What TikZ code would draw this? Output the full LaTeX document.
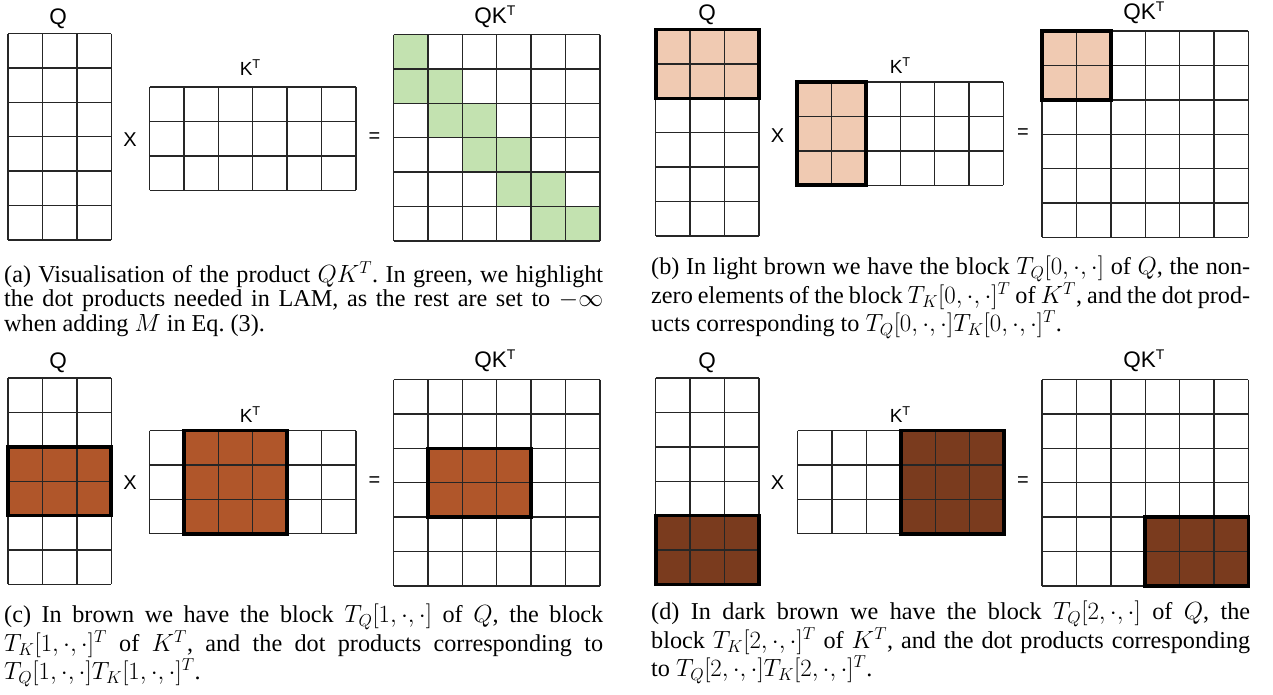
\documentclass[tikz,border=0pt]{standalone}
\usepackage[no-math]{fontspec}
\setmainfont{Liberation Serif}
\newfontfamily\lsans{Liberation Sans}
\definecolor{lgreen}{HTML}{C3E2B0}
\definecolor{lbrown}{HTML}{F0CAB2}
\definecolor{mbrown}{HTML}{B0562A}
\definecolor{dbrown}{HTML}{7A3B1E}
\newcommand\cellsz{34.4}
\newcommand\mgrid[4]{%
  \foreach \i in {0,...,#3} \draw[gl] ({#1+\i*\cellsz},#2) -- ({#1+\i*\cellsz},{#2+#4*\cellsz});
  \foreach \j in {0,...,#4} \draw[gl] (#1,{#2+\j*\cellsz}) -- ({#1+#3*\cellsz},{#2+\j*\cellsz});}
\newcommand\mfill[7]{\fill[#7] ({#1+(#3)*\cellsz},{#2+(#4)*\cellsz}) rectangle ({#1+(#5)*\cellsz},{#2+(#6)*\cellsz});}
\newcommand\mframe[6]{\draw[blockline] ({#1+(#3)*\cellsz},{#2+(#4)*\cellsz}) rectangle ({#1+(#5)*\cellsz},{#2+(#6)*\cellsz});}
\tikzset{
  gl/.style={line width=1.4pt, draw=black!85},
  blockline/.style={line width=3.6pt, draw=black},
  biglab/.style={font=\lsans\fontsize{22.5}{22.5}\selectfont, inner sep=0pt, anchor=base},
  ktlab/.style={font=\lsans\fontsize{19}{19}\selectfont, inner sep=0pt, anchor=base},
  oplab/.style={font=\lsans\fontsize{20}{20}\selectfont, inner sep=0pt},
  capbox/.style={font=\fontsize{24.2}{24.8}\selectfont\frenchspacing, text width=599pt, align=justify, inner sep=0pt, anchor=north west}
}
\newcommand\bigT{\raisebox{7.7pt}{\fontsize{14}{14}\selectfont T}}
\newcommand\smT{\raisebox{6.7pt}{\fontsize{12.8}{12.8}\selectfont T}}
\begin{document}
\begin{tikzpicture}[x=1pt,y=-1pt]
\useasboundingbox (0,0) rectangle (1273,694);
% ---------------- (a)
\foreach \c/\r in {0/0,0/1,1/1,1/2,2/2,2/3,3/3,3/4,4/4,4/5,5/5}{\mfill{393.5}{34.5}{\c}{\r}{\c+1}{\r+1}{lgreen}}
\mgrid{8}{33.5}{3}{6}
\mgrid{149.5}{87}{6}{3}
\mgrid{393.5}{34.5}{6}{6}
\node[biglab] (qa) at (58,24) {Q};
\node[ktlab] (ka) at (250,75) {K\smT};
\node[biglab] (qka) at (495,23) {QK\bigT};
\node[oplab] (xa) at (130,140) {X};
\node[oplab] (ea) at (374.5,137.5) {=};
% ---------------- (b)
\mfill{655.7}{29.5}{0}{0}{3}{2}{lbrown}
\mfill{797}{82}{0}{0}{2}{3}{lbrown}
\mfill{1042}{31}{0}{0}{2}{2}{lbrown}
\mgrid{655.7}{29.5}{3}{6}
\mgrid{797}{82}{6}{3}
\mgrid{1042}{31}{6}{6}
\mframe{655.7}{29.5}{0}{0}{3}{2}
\mframe{797}{82}{0}{0}{2}{3}
\mframe{1042}{31}{0}{0}{2}{2}
\node[biglab] (qb) at (707,20) {Q};
\node[ktlab] (kb) at (900,73) {K\smT};
\node[biglab] (qkb) at (1144,19) {QK\bigT};
\node[oplab] (xb) at (777.5,135.5) {X};
\node[oplab] (eb) at (1023,134) {=};
% ---------------- (c)
\mfill{8}{378}{0}{2}{3}{4}{mbrown}
\mfill{149.5}{430.5}{1}{0}{4}{3}{mbrown}
\mfill{393.5}{379.5}{1}{2}{4}{4}{mbrown}
\mgrid{8}{378}{3}{6}
\mgrid{149.5}{430.5}{6}{3}
\mgrid{393.5}{379.5}{6}{6}
\mframe{8}{378}{0}{2}{3}{4}
\mframe{149.5}{430.5}{1}{0}{4}{3}
\mframe{393.5}{379.5}{1}{2}{4}{4}
\node[biglab] (qc) at (58,368) {Q};
\node[ktlab] (kc) at (250,422) {K\smT};
\node[biglab] (qkc) at (495,367) {QK\bigT};
\node[oplab] (xc) at (130,482.5) {X};
\node[oplab] (ec) at (374.5,482) {=};
% ---------------- (d)
\mfill{655.7}{378}{0}{4}{3}{6}{dbrown}
\mfill{797.7}{430.5}{3}{0}{6}{3}{dbrown}
\mfill{1042}{379.5}{3}{4}{6}{6}{dbrown}
\mgrid{655.7}{378}{3}{6}
\mgrid{797.7}{430.5}{6}{3}
\mgrid{1042}{379.5}{6}{6}
\mframe{655.7}{378}{0}{4}{3}{6}
\mframe{797.7}{430.5}{3}{0}{6}{3}
\mframe{1042}{379.5}{3}{4}{6}{6}
\node[biglab] (qd) at (707,368) {Q};
\node[ktlab] (kd) at (900,422) {K\smT};
\node[biglab] (qkd) at (1144,367) {QK\bigT};
\node[oplab] (xd) at (777.5,482.5) {X};
\node[oplab] (ed) at (1023,482) {=};
% ---------------- captions
\node[capbox] (capa) at (4,261) {(a) Visualisation of the product $QK^T$. In green, we highlight\linebreak the dot products needed in LAM, as the rest are set to $-\infty$\linebreak when adding $M$ in Eq.~(3).};
\node[capbox] (capb) at (651,256) {(b) In light brown we have the block $T_Q[0,\cdot,\cdot]$ of $Q$, the non-\linebreak zero elements of the block $T_K[0,\cdot,\cdot]^T$ of $K^T$, and the dot prod-\linebreak ucts corresponding to $T_Q[0,\cdot,\cdot]T_K[0,\cdot,\cdot]^T$.};
\node[capbox] (capc) at (4,604) {(c) In brown we have the block $T_Q[1,\cdot,\cdot]$ of $Q$, the block\linebreak $T_K[1,\cdot,\cdot]^T$ of $K^T$, and the dot products corresponding to\linebreak $T_Q[1,\cdot,\cdot]T_K[1,\cdot,\cdot]^T$.};
\node[capbox] (capd) at (651,601) {(d) In dark brown we have the block $T_Q[2,\cdot,\cdot]$ of $Q$, the\linebreak block $T_K[2,\cdot,\cdot]^T$ of $K^T$, and the dot products corresponding\linebreak to $T_Q[2,\cdot,\cdot]T_K[2,\cdot,\cdot]^T$.};
\end{tikzpicture}
\end{document}
